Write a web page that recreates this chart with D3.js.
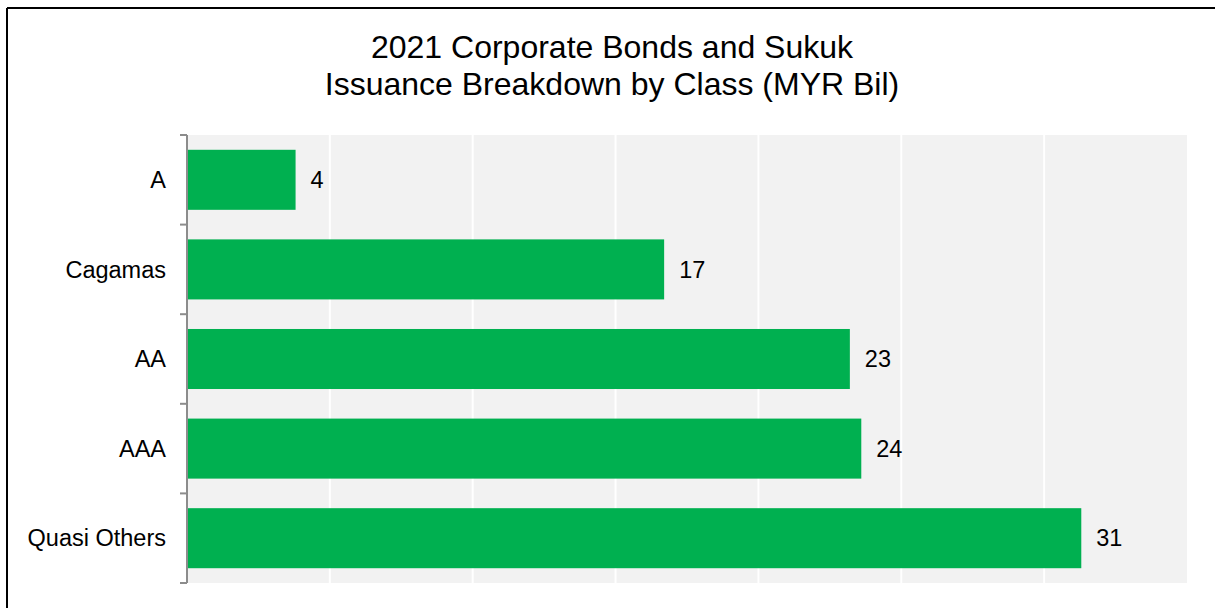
<!DOCTYPE html>
<html>
<head>
<meta charset="utf-8">
<script src="https://cdn.jsdelivr.net/npm/d3@7"></script>
<style>
  html, body { margin: 0; padding: 0; background: #fff; }
  svg { display: block; font-family: "Liberation Sans", Arial, sans-serif; }
</style>
</head>
<body>
<svg id="chart" width="1215" height="608"></svg>
<script>
const titleLines = ["2021 Corporate Bonds and Sukuk", "Issuance Breakdown by Class (MYR Bil)"];
const categories = ["A", "Cagamas", "AA", "AAA", "Quasi Others"];
const values = [3.8, 16.7, 23.2, 23.6, 31.3];
const xTicks = [0, 5, 10, 15, 20, 25, 30, 35];

const svg = d3.select("#chart");
const W = 1215, H = 608;
const margin = { left: 187, right: 28, top: 135, bottom: 25 };

// frame (top and left edges)
svg.append("line").attr("x1", 7).attr("x2", W).attr("y1", 8).attr("y2", 8)
  .attr("stroke", "#000").attr("stroke-width", 2);
svg.append("line").attr("x1", 7).attr("x2", 7).attr("y1", 8).attr("y2", H)
  .attr("stroke", "#000").attr("stroke-width", 2);

const x = d3.scaleLinear().domain([0, 35]).range([margin.left, W - margin.right]);
const y = d3.scaleBand().domain(categories).range([margin.top, H - margin.bottom])
  .paddingInner(0.33).paddingOuter(0.165);

// plot background
svg.append("rect")
  .attr("x", x(0)).attr("y", margin.top)
  .attr("width", x(35) - x(0)).attr("height", H - margin.bottom - margin.top)
  .attr("fill", "#f2f2f2");

// gridlines
svg.append("g").selectAll("line").data(xTicks.filter(d => d > 0 && d < 35)).join("line")
  .attr("x1", d => x(d)).attr("x2", d => x(d))
  .attr("y1", margin.top).attr("y2", H - margin.bottom)
  .attr("stroke", "#ffffff").attr("stroke-width", 2);

// bars
const data = categories.map((c, i) => ({ c, v: values[i] }));
svg.append("g").selectAll("rect").data(data).join("rect")
  .attr("x", x(0))
  .attr("y", d => y(d.c))
  .attr("width", d => x(d.v) - x(0))
  .attr("height", y.bandwidth())
  .attr("fill", "#00b050");

// value labels
svg.append("g").selectAll("text").data(data).join("text")
  .attr("x", d => x(d.v) + 15)
  .attr("y", d => y(d.c) + y.bandwidth() / 2)
  .attr("dy", "0.35em")
  .attr("font-size", 23.5)
  .attr("fill", "#000")
  .text(d => d3.format(".0f")(d.v));

// y axis with boundary ticks
const step = y.step();
const edges = d3.range(categories.length + 1).map(i => margin.top + i * step);
const yAxisG = svg.append("g");
yAxisG.append("line")
  .attr("x1", x(0)).attr("x2", x(0))
  .attr("y1", margin.top).attr("y2", H - margin.bottom)
  .attr("stroke", "#8c8c8c").attr("stroke-width", 2);
yAxisG.selectAll("line.tick").data(edges).join("line")
  .attr("class", "tick")
  .attr("x1", x(0) - 7).attr("x2", x(0))
  .attr("y1", d => d).attr("y2", d => d)
  .attr("stroke", "#8c8c8c").attr("stroke-width", 2);
yAxisG.selectAll("text").data(categories).join("text")
  .attr("x", 166)
  .attr("y", d => y(d) + y.bandwidth() / 2)
  .attr("dy", "0.35em")
  .attr("text-anchor", "end")
  .attr("font-size", 23.5)
  .attr("fill", "#000")
  .text(d => d);

// title
svg.append("g").selectAll("text").data(titleLines).join("text")
  .attr("x", 612)
  .attr("y", (d, i) => 58 + i * 37)
  .attr("text-anchor", "middle")
  .attr("font-size", 32)
  .attr("fill", "#000")
  .text(d => d);
</script>
</body>
</html>
